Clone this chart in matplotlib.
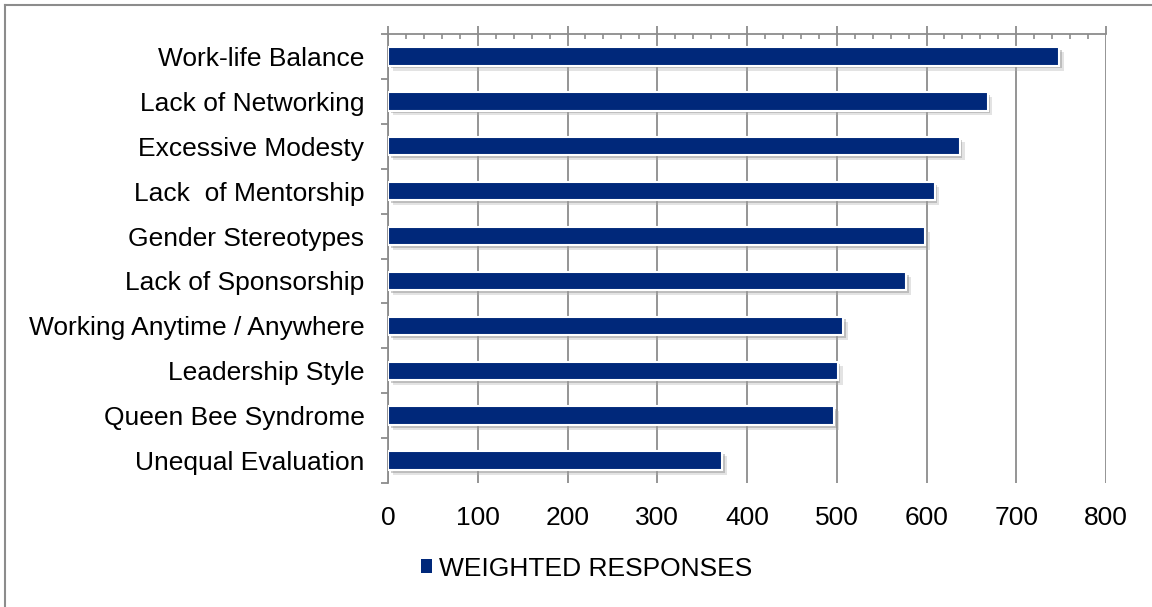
import matplotlib
matplotlib.use("Agg")
import matplotlib.pyplot as plt
import matplotlib.patheffects as pe
from matplotlib.ticker import MultipleLocator, FixedLocator
from matplotlib.lines import Line2D
from matplotlib.patches import Patch

plt.rcParams['font.family'] = ['Liberation Sans', 'DejaVu Sans']

categories = [
    "Work-life Balance",
    "Lack of Networking",
    "Excessive Modesty",
    "Lack  of Mentorship",
    "Gender Stereotypes",
    "Lack of Sponsorship",
    "Working Anytime / Anywhere",
    "Leadership Style",
    "Queen Bee Syndrome",
    "Unequal Evaluation",
]
weighted_responses = [748, 668, 637, 609, 598, 577, 507, 501, 497, 372]
series_name = "WEIGHTED RESPONSES"
x_ticks = [0, 100, 200, 300, 400, 500, 600, 700, 800]

BAR = "#00287A"
GRAY = "#8C8C8C"
FS = 19

fig = plt.figure(figsize=(11.52, 6.07), dpi=100)

# outer frame (top and left edges)
fig.add_artist(Line2D([5 / 1152, 1.0], [1 - 5 / 607, 1 - 5 / 607],
                      transform=fig.transFigure, color=GRAY, lw=1.5))
fig.add_artist(Line2D([5 / 1152, 5 / 1152], [0.0, 1 - 5 / 607],
                      transform=fig.transFigure, color=GRAY, lw=1.5))

ax = fig.add_axes([388 / 1152, 1 - 483 / 607, 718 / 1152, 449 / 607])

ypos = list(range(len(categories)))
bars = ax.barh(ypos, weighted_responses, height=0.41, color=BAR,
               edgecolor="white", linewidth=1.5, zorder=3)
for b in bars:
    b.set_path_effects([
        pe.SimplePatchShadow(offset=(3.5, -3.5), shadow_rgbFace="#B0B0B0", alpha=0.35),
        pe.SimplePatchShadow(offset=(2, -2), shadow_rgbFace="#909090", alpha=0.45),
        pe.Normal()])

ax.set_xlim(0, 800)
ax.set_ylim(len(categories) - 0.5, -0.5)

ax.xaxis.set_major_locator(FixedLocator(x_ticks))
ax.xaxis.set_minor_locator(MultipleLocator(20))
ax.set_xticklabels([str(v) for v in x_ticks])
ax.tick_params(axis='x', which='major', top=True, bottom=False,
               labeltop=False, labelbottom=True, direction='out',
               length=6, width=1.3, color=GRAY, labelsize=FS, pad=10.5)
ax.tick_params(axis='x', which='minor', top=True, bottom=False,
               direction='in', length=3.8, width=1.2, color=GRAY)
ax.grid(axis='x', which='major', color=GRAY, lw=1.3, zorder=0)
ax.set_axisbelow(True)

ax.set_yticks(ypos)
ax.set_yticklabels(categories)
ax.yaxis.set_minor_locator(FixedLocator([i - 0.5 for i in range(len(categories) + 1)]))
ax.tick_params(axis='y', which='major', length=0, labelsize=FS, pad=17)
ax.tick_params(axis='y', which='minor', left=True, direction='out',
               length=5, width=1.3, color=GRAY)

for side in ("bottom", "right"):
    ax.spines[side].set_visible(False)
for side in ("top", "left"):
    ax.spines[side].set_color(GRAY)
    ax.spines[side].set_linewidth(1.3)

legend_handle = Patch(facecolor=BAR, edgecolor="none")
fig.legend(handles=[legend_handle], labels=[series_name], loc='center',
           bbox_to_anchor=(0.509, 0.063), frameon=False, fontsize=FS,
           handlelength=0.45, handleheight=0.45, handletextpad=0.25)

fig.savefig("out.png", dpi=100)
